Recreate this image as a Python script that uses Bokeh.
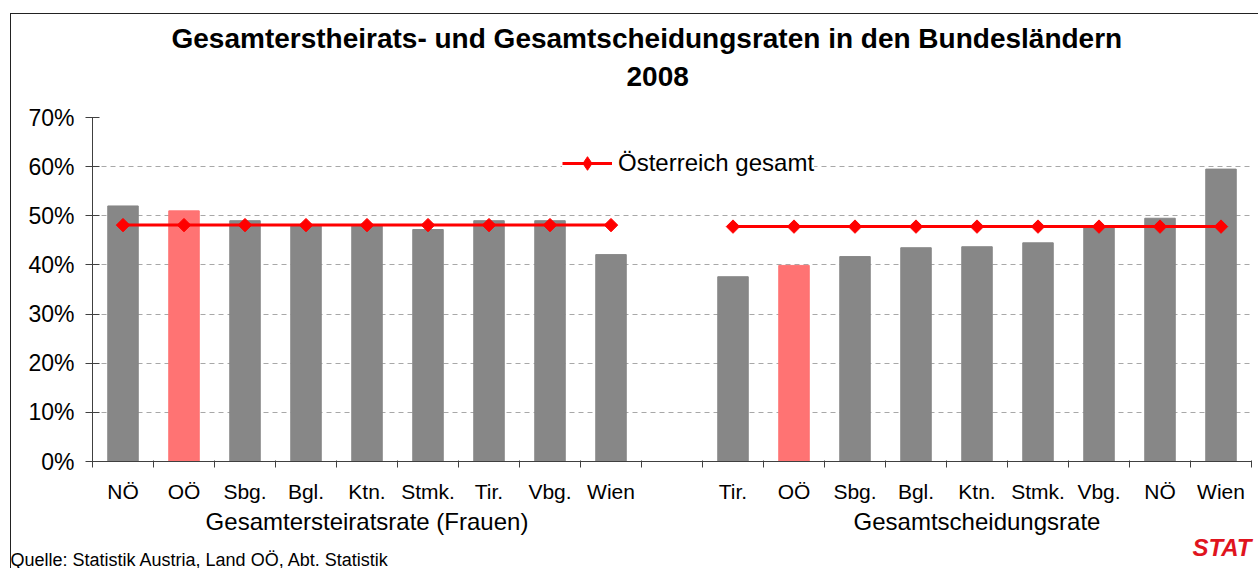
import numpy as np
from bokeh.plotting import figure
from bokeh.models import (ColumnDataSource, FixedTicker, PrintfTickFormatter, Title,
                          Legend, LegendItem, Range1d, LinearAxis)
from bokeh.embed import file_html
from bokeh.resources import INLINE

# ---------------- data ----------------
heirat_laender = ["NÖ", "OÖ", "Sbg.", "Bgl.", "Ktn.", "Stmk.", "Tir.", "Vbg.", "Wien"]
heirat_werte = [52.0, 51.0, 49.0, 48.2, 48.2, 47.2, 49.0, 49.0, 42.1]
heirat_oesterreich = [48.1, 48.1, 48.1, 48.1, 48.1, 48.1, 48.1, 48.1, 48.1]

scheidung_laender = ["Tir.", "OÖ", "Sbg.", "Bgl.", "Ktn.", "Stmk.", "Vbg.", "NÖ", "Wien"]
scheidung_werte = [37.6, 39.9, 41.7, 43.5, 43.7, 44.5, 47.9, 49.5, 59.5]
scheidung_oesterreich = [47.8, 47.8, 47.8, 47.8, 47.8, 47.8, 47.8, 47.8, 47.8]

y_ticks = [0, 10, 20, 30, 40, 50, 60, 70]
gruppen_titel = ["Gesamtersteiratsrate (Frauen)", "Gesamtscheidungsrate"]
titel_zeile1 = "Gesamterstheirats- und Gesamtscheidungsraten in den Bundesländern"
titel_zeile2 = "2008"
legenden_text = "Österreich gesamt"
quelle = "Quelle: Statistik Austria, Land OÖ, Abt. Statistik"
logo_text = "STAT"
hervorgehoben = "OÖ"

# ---------------- layout helpers ----------------
n1 = len(heirat_laender)
n2 = len(scheidung_laender)
n_slots = n1 + 1 + n2
x1 = [i + 0.5 for i in range(n1)]
x2 = [n1 + 1 + i + 0.5 for i in range(n2)]

GRAY = "#878787"
HIGHLIGHT = "#FF7373"
RED = "#FF0000"
AXIS = "#404040"
FONT = "Liberation Sans"

bar_src = ColumnDataSource(dict(
    x=x1 + x2,
    top=heirat_werte + scheidung_werte,
    color=[HIGHLIGHT if c == hervorgehoben else GRAY for c in heirat_laender + scheidung_laender],
))

p = figure(width=1248, height=555,
           x_range=Range1d(0, n_slots), y_range=Range1d(0, 70),
           output_backend="svg", toolbar_location=None,
           min_border_left=81, min_border_right=8,
           min_border_top=103, min_border_bottom=108)
p.margin = (13, 0, 0, 10)
p.styles = {"border-left": "1px solid #222", "border-top": "1px solid #222"}
p.outline_line_color = None
p.background_fill_color = "white"
p.border_fill_color = "white"

# grid
p.xgrid.visible = False
p.ygrid.ticker = FixedTicker(ticks=y_ticks)
p.ygrid.grid_line_color = "#A8A8A8"
p.ygrid.grid_line_dash = "5 4"
p.ygrid.grid_line_width = 1

# bars
p.vbar(x="x", top="top", width=0.5, color="color", source=bar_src)

# Austria lines
l1 = p.line(x1, heirat_oesterreich, color=RED, line_width=3)
p.scatter(x1, heirat_oesterreich, marker="square", angle=np.pi / 4, size=9.5, color=RED)
p.line(x2, scheidung_oesterreich, color=RED, line_width=3)
p.scatter(x2, scheidung_oesterreich, marker="square", angle=np.pi / 4, size=9.5, color=RED)
legend_marker = p.scatter([np.nan], [np.nan], marker="diamond", size=18, color=RED)

# y axis
ya = p.yaxis[0]
ya.ticker = FixedTicker(ticks=y_ticks)
ya.formatter = PrintfTickFormatter(format="%d%%")
ya.axis_line_color = AXIS
ya.major_tick_line_color = AXIS
ya.major_tick_in = 7
ya.major_tick_out = 7
ya.minor_tick_line_color = None
ya.major_label_text_font = FONT
ya.major_label_text_font_size = "23px"
ya.major_label_text_color = "black"
ya.major_label_standoff = 11

# x axis: labels at slot centres, small ticks at slot boundaries
xa = p.xaxis[0]
centers = x1 + x2
xa.ticker = FixedTicker(ticks=centers, minor_ticks=list(range(n_slots + 1)))
xa.major_label_overrides = {c: lab for c, lab in zip(centers, heirat_laender + scheidung_laender)}
xa.axis_line_color = AXIS
xa.major_tick_line_color = None
xa.major_tick_in = 0
xa.major_tick_out = 0
xa.minor_tick_line_color = AXIS
xa.minor_tick_in = 1
xa.minor_tick_out = 6
xa.major_label_text_font = FONT
xa.major_label_text_font_size = "21px"
xa.major_label_text_color = "black"
xa.major_label_standoff = 12

# group titles as a second, line-less axis
gruppen_x = [n1 / 2, n1 + 1 + n2 / 2]
ga = LinearAxis(ticker=FixedTicker(ticks=gruppen_x),
                major_label_overrides={gx: gt for gx, gt in zip(gruppen_x, gruppen_titel)})
ga.axis_line_color = None
ga.major_tick_line_color = None
ga.minor_tick_line_color = None
ga.major_tick_in = 0
ga.major_tick_out = 0
ga.major_label_text_font = FONT
ga.major_label_text_font_size = "24px"
ga.major_label_text_color = "black"
ga.major_label_standoff = 2
p.add_layout(ga, "below")

# logo text and source line share the last row
p.add_layout(Title(text=logo_text, align="right", offset=0, standoff=-11,
                   text_font=FONT, text_font_size="24px", text_font_style="bold italic",
                   text_color="#E0141E"), "below")
p.add_layout(Title(text=quelle, align="left", offset=-82, standoff=-16,
                   text_font=FONT, text_font_size="18px", text_font_style="normal",
                   text_color="black"), "below")

# legend
legend = Legend(items=[LegendItem(label=legenden_text, renderers=[l1, legend_marker])],
                location=(470, 281), orientation="horizontal")
legend.background_fill_color = "white"
legend.background_fill_alpha = 1.0
legend.border_line_color = None
legend.label_text_font = FONT
legend.label_text_font_size = "24px"
legend.label_text_color = "black"
legend.glyph_width = 50
legend.glyph_height = 34
legend.label_standoff = 6
legend.padding = 0
legend.margin = 0
p.add_layout(legend)

# titles (first added sits closest to the plot)
p.add_layout(Title(text=" ", text_font_size="1px", standoff=20), "above")
p.add_layout(Title(text=titel_zeile2, align="left", offset=534, standoff=18,
                   text_font=FONT, text_font_style="bold", text_font_size="28px",
                   text_color="black"), "above")
p.add_layout(Title(text=titel_zeile1, align="left", offset=79, standoff=4,
                   text_font=FONT, text_font_style="bold", text_font_size="28px",
                   text_color="black"), "above")

open("out.html", "w").write(file_html(p, INLINE))
